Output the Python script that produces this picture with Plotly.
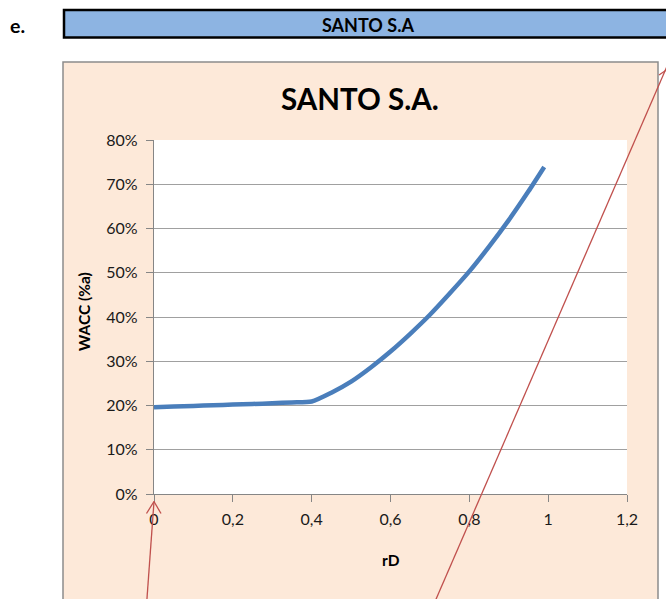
import plotly.graph_objects as go

# ---- data ----
rD = [0, 0.05, 0.1, 0.15, 0.2, 0.25, 0.3, 0.35, 0.4, 0.45, 0.5, 0.55, 0.6,
      0.65, 0.7, 0.75, 0.8, 0.85, 0.9, 0.95, 0.99]
wacc = [0.196, 0.1975, 0.199, 0.2005, 0.202, 0.2035, 0.205, 0.207, 0.209, 0.229,
        0.254, 0.286, 0.322, 0.362, 0.405, 0.453, 0.503, 0.559, 0.619, 0.684, 0.739]
x_ticks = [0, 0.2, 0.4, 0.6, 0.8, 1.0, 1.2]
x_tick_labels = ["0", "0,2", "0,4", "0,6", "0,8", "1", "1,2"]
y_ticks = [0, 0.1, 0.2, 0.3, 0.4, 0.5, 0.6, 0.7, 0.8]
y_tick_labels = ["0%", "10%", "20%", "30%", "40%", "50%", "60%", "70%", "80%"]
chart_title = "SANTO S.A."
header_text = "SANTO S.A"
item_label = "e."

W, H = 666, 599
L, R, T, B = 154, 39, 140, 105
PW, PH = W - L - R, H - T - B

def px(x):
    return (x - L) / PW

def py(y):
    return (H - B - y) / PH

FONT = "Lato"
RED = "#C0504D"

fig = go.Figure()
fig.add_trace(go.Scatter(
    x=rD, y=wacc, mode="lines",
    line=dict(color="#4A7EBB", width=4.5, shape="spline", smoothing=0.6),
    hoverinfo="skip", showlegend=False,
))

shapes = [
    # chart area background
    dict(type="rect", xref="paper", yref="paper", layer="below",
         x0=px(63), x1=px(658), y0=py(62), y1=py(640),
         fillcolor="#FDE9D9", line=dict(color="#8C8C8C", width=1.5)),
    # plot area
    dict(type="rect", xref="paper", yref="paper", layer="below",
         x0=0, x1=1, y0=0, y1=1, fillcolor="white", line=dict(width=0)),
    # header bar
    dict(type="rect", xref="paper", yref="paper", layer="below",
         x0=px(64), x1=px(690), y0=py(10), y1=py(37.5),
         fillcolor="#8DB4E2", line=dict(color="black", width=2.5)),
    # red arrow 1
    dict(type="line", xref="paper", yref="paper", layer="above",
         x0=px(146.5), y0=py(605), x1=px(154), y1=py(501.5),
         line=dict(color=RED, width=1.3)),
    dict(type="line", xref="paper", yref="paper", layer="above",
         x0=px(146.5), y0=py(513.5), x1=px(154), y1=py(501.5),
         line=dict(color=RED, width=1.3)),
    dict(type="line", xref="paper", yref="paper", layer="above",
         x0=px(161), y0=py(513.5), x1=px(154), y1=py(501.5),
         line=dict(color=RED, width=1.3)),
    # red line 2
    dict(type="line", xref="paper", yref="paper", layer="above",
         x0=px(433.5), y0=py(605), x1=px(668), y1=py(64),
         line=dict(color=RED, width=1.3)),
    dict(type="line", xref="paper", yref="paper", layer="above",
         x0=px(659), y0=py(75), x1=px(668), y1=py(69),
         line=dict(color=RED, width=1.3)),
]

annotations = [
    dict(text=f"<b>{chart_title}</b>", xref="paper", yref="paper",
         x=px(360), y=py(98), xanchor="center", yanchor="middle",
         showarrow=False, font=dict(family=FONT, size=29.5, color="black")),
    dict(text=f"<b>{header_text}</b>", xref="paper", yref="paper",
         x=px(367.5), y=py(24.5), xanchor="center", yanchor="middle",
         showarrow=False, font=dict(family=FONT, size=18, color="black")),
    dict(text=f"<b>{item_label}</b>", xref="paper", yref="paper",
         x=px(8), y=py(26), xanchor="left", yanchor="middle",
         showarrow=False, font=dict(family=FONT, size=19.5, color="black")),
    dict(text="<b>rD</b>", xref="paper", yref="paper",
         x=px(391), y=py(560), xanchor="center", yanchor="middle",
         showarrow=False, font=dict(family=FONT, size=15.5, color="black")),
    dict(text="<b>WACC (%a)</b>", xref="paper", yref="paper",
         x=px(84), y=py(312), xanchor="center", yanchor="middle", textangle=-90,
         showarrow=False, font=dict(family=FONT, size=15.5, color="black")),
]

fig.update_layout(
    width=W, height=H,
    margin=dict(l=L, r=R, t=T, b=B, pad=0),
    paper_bgcolor="white", plot_bgcolor="rgba(0,0,0,0)",
    shapes=shapes, annotations=annotations,
    font=dict(family=FONT, size=16, color="#222"),
    showlegend=False,
)
fig.update_xaxes(
    range=[0, 1.2], tickvals=x_ticks, ticktext=x_tick_labels,
    showgrid=False, zeroline=False, showline=True, linecolor="#868686", linewidth=1.3,
    ticks="outside", ticklen=7, tickcolor="#868686", tickwidth=1.3,
    ticklabelstandoff=4,
    tickfont=dict(family=FONT, size=16, color="#1a1a1a"),
    fixedrange=True,
)
fig.update_yaxes(
    range=[0, 0.8], tickvals=y_ticks, ticktext=y_tick_labels,
    showgrid=True, gridcolor="#A0A0A0", gridwidth=1.3,
    zeroline=False, showline=True, linecolor="#868686", linewidth=1.3,
    ticks="outside", ticklen=7, tickcolor="#868686", tickwidth=1.3,
    ticklabelstandoff=5,
    tickfont=dict(family=FONT, size=16, color="#1a1a1a"),
    fixedrange=True,
)

fig.write_html("out.html", config=dict(displayModeBar=False))
